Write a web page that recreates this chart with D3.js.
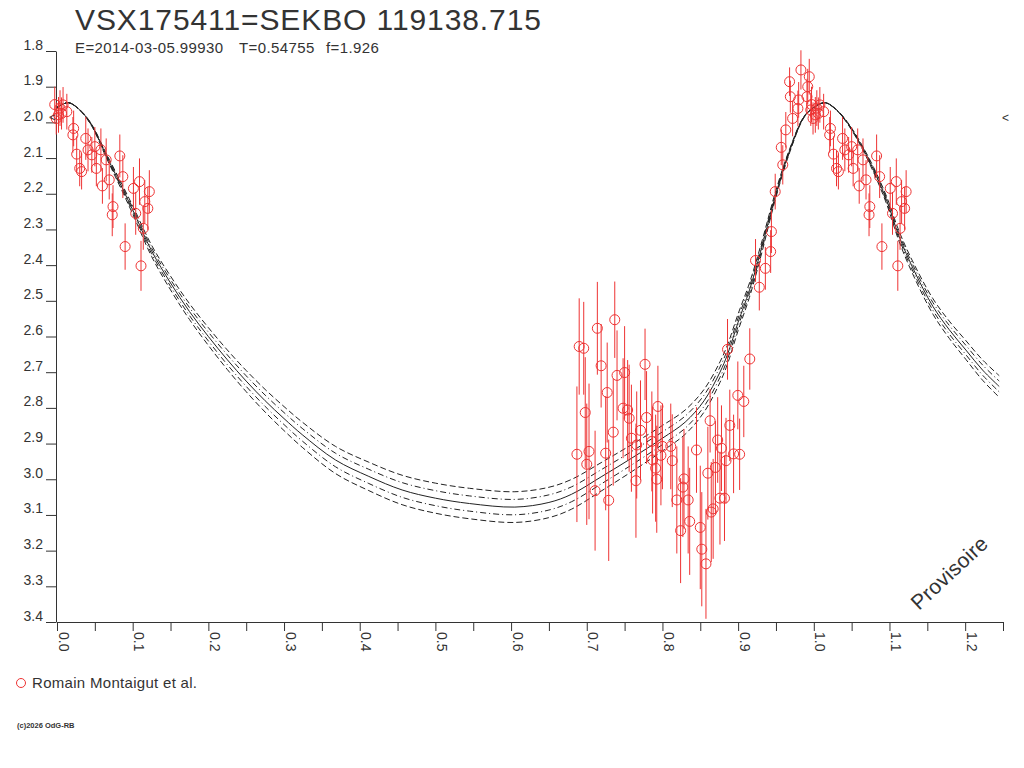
<!DOCTYPE html>
<html>
<head>
<meta charset="utf-8">
<script src="https://cdn.jsdelivr.net/npm/d3@7"></script>
<style>
  body { margin: 0; background: #fff; }
  svg { display: block; }
</style>
</head>
<body>
<div id="chart"></div>
<script>
// model light curve (phase 0 .. 1.25)
const curvePhase = [0.000, 0.015, 0.030, 0.045, 0.066, 0.083, 0.100, 0.125, 0.150, 0.175, 0.200, 0.225, 0.250, 0.275, 0.300, 0.324, 0.368, 0.412, 0.456, 0.500, 0.545, 0.605, 0.650, 0.680, 0.720, 0.760, 0.800, 0.830, 0.855, 0.876, 0.886, 0.900, 0.915, 0.930, 0.950, 0.968, 0.987, 1.000, 1.015, 1.030, 1.045, 1.061, 1.079, 1.096, 1.113, 1.132, 1.1575, 1.179, 1.201, 1.223, 1.245];
const curveMag   = [1.958, 1.945, 1.965, 2.005, 2.097, 2.170, 2.245, 2.360, 2.450, 2.530, 2.600, 2.665, 2.725, 2.780, 2.830, 2.875, 2.946, 2.992, 3.030, 3.053, 3.068, 3.078, 3.065, 3.042, 2.992, 2.940, 2.885, 2.840, 2.780, 2.700, 2.650, 2.560, 2.470, 2.360, 2.200, 2.080, 1.985, 1.958, 1.945, 1.965, 2.003, 2.058, 2.133, 2.217, 2.321, 2.413, 2.516, 2.581, 2.638, 2.694, 2.740];
// amplitude spread of the envelope curves
const bandScale = [-0.038, -0.019, 0, 0.019, 0.038];

// observations: phase, magnitude, error
const obsPhase = [0.928, 0.923, 0.936, 0.943, 0.944, 0.949, 0.959, 0.957, 0.963, 0.972, 0.969, 0.968, 0.980, 0.979, 0.983, 0.994, 0.992, 0.991, 0.996, 0.002, 0.008, 0.006, 0.013, 0.999, 0.022, 0.021, 0.038, 0.026, 0.030, 0.0325, 0.041, 0.046, 0.052, 0.050, 0.058, 0.060, 0.065, 0.069, 0.074, 0.073, 0.083, 0.087, 0.090, 0.101, 0.109, 0.122, 0.116, 0.120, 0.114, 0.111, 0.104, 0.997, 0.004,
  0.687, 0.690, 0.696, 0.698, 0.703, 0.700, 0.714, 0.719, 0.711, 0.725, 0.727, 0.729, 0.735, 0.737, 0.740, 0.748, 0.750, 0.754, 0.756, 0.759, 0.766, 0.765, 0.771, 0.777, 0.779, 0.786, 0.787, 0.794, 0.791, 0.7925, 0.798, 0.800, 0.811, 0.813, 0.819, 0.824, 0.8285, 0.827, 0.834, 0.836, 0.845, 0.850, 0.852, 0.8575, 0.860, 0.863, 0.867, 0.8645, 0.870, 0.873, 0.878, 0.876, 0.882, 0.884, 0.889, 0.894, 0.902, 0.8996, 0.9075, 0.886, 0.9154];
const obsMag = [2.462, 2.387, 2.409, 2.362, 2.306, 2.194, 2.119, 2.070, 2.021, 1.989, 1.928, 1.886, 1.937, 1.961, 1.853, 1.872, 1.900, 1.928, 1.965, 1.979, 1.951, 1.975, 1.970, 1.989, 2.017, 2.035, 2.045, 2.089, 2.129, 2.138, 2.077, 2.091, 2.129, 2.068, 2.077, 2.178, 2.105, 2.161, 2.236, 2.259, 2.094, 2.152, 2.348, 2.185, 2.166, 2.194, 2.222, 2.241, 2.297, 2.402, 2.255, 1.950, 1.960,
  2.930, 2.628, 2.633, 2.813, 2.922, 2.958, 2.577, 2.682, 3.032, 2.927, 2.757, 3.059, 2.868, 2.553, 2.709, 2.801, 2.701, 2.806, 2.829, 2.885, 2.904, 3.004, 2.863, 2.678, 2.827, 2.894, 2.946, 2.796, 2.969, 3.000, 2.933, 2.908, 2.908, 2.948, 3.058, 3.144, 2.999, 3.022, 3.058, 3.118, 2.918, 3.135, 3.196, 3.237, 2.983, 2.836, 3.083, 3.092, 2.967, 2.890, 2.913, 3.053, 3.053, 2.948, 2.849, 2.929, 2.930, 2.765, 2.782, 2.636, 2.663];
const obsErr = [0.065, 0.060, 0.060, 0.060, 0.060, 0.050, 0.055, 0.050, 0.050, 0.050, 0.045, 0.040, 0.050, 0.050, 0.055, 0.050, 0.050, 0.050, 0.045, 0.050, 0.050, 0.045, 0.050, 0.045, 0.050, 0.050, 0.060, 0.050, 0.050, 0.050, 0.060, 0.050, 0.050, 0.055, 0.060, 0.050, 0.060, 0.055, 0.060, 0.060, 0.060, 0.060, 0.065, 0.060, 0.065, 0.060, 0.060, 0.060, 0.060, 0.070, 0.060, 0.050, 0.050,
  0.190, 0.135, 0.130, 0.155, 0.190, 0.170, 0.130, 0.117, 0.168, 0.160, 0.140, 0.170, 0.150, 0.107, 0.126, 0.140, 0.130, 0.140, 0.150, 0.150, 0.150, 0.160, 0.140, 0.100, 0.130, 0.140, 0.150, 0.114, 0.150, 0.150, 0.140, 0.120, 0.120, 0.130, 0.150, 0.147, 0.140, 0.140, 0.150, 0.150, 0.120, 0.173, 0.160, 0.154, 0.130, 0.089, 0.140, 0.140, 0.130, 0.120, 0.120, 0.130, 0.120, 0.120, 0.100, 0.110, 0.100, 0.095, 0.100, 0.085, 0.086];

const xMajor = [0, 0.1, 0.2, 0.3, 0.4, 0.5, 0.6, 0.7, 0.8, 0.9, 1.0, 1.1, 1.2];
const xMinor = [0.05, 0.15, 0.25, 0.35, 0.45, 0.55, 0.65, 0.75, 0.85, 0.95, 1.05, 1.15, 1.25];
const yTicks = [1.8, 1.9, 2.0, 2.1, 2.2, 2.3, 2.4, 2.5, 2.6, 2.7, 2.8, 2.9, 3.0, 3.1, 3.2, 3.3, 3.4];

const width = 1024, height = 768;
const ink = '#333', red = '#ee3333';
const font = '"Liberation Sans", Arial, sans-serif';

const svg = d3.select('#chart').append('svg')
  .attr('width', width)
  .attr('height', height)
  .style('font-family', font);

const x = d3.scaleLinear().domain([0, 1.25]).range([57, 1003]);
const y = d3.scaleLinear().domain([1.8, 3.4]).range([51, 622]);

// title block
svg.append('text').attr('x', 75).attr('y', 30)
  .attr('font-size', 30).attr('letter-spacing', 0.9).attr('fill', ink)
  .text('VSX175411=SEKBO 119138.715');
[['E=2014-03-05.99930', 75], ['T=0.54755', 239], ['f=1.926', 326]].forEach(([t, px]) => {
  svg.append('text').attr('x', px).attr('y', 53)
    .attr('font-size', 15).attr('letter-spacing', 0.4).attr('fill', ink).text(t);
});

// axes
const yAxis = svg.append('g')
  .attr('transform', `translate(${x(0) - 1},0)`)
  .call(d3.axisLeft(y).tickValues(yTicks).tickSize(10).tickSizeOuter(0).tickPadding(3)
    .tickFormat(d3.format('.1f')));
yAxis.selectAll('text').attr('font-size', 14).attr('font-family', font)
  .attr('fill', ink).attr('dy', -2);

const xAxis = svg.append('g')
  .attr('transform', `translate(0,${y(3.4)})`)
  .call(d3.axisBottom(x).tickValues(xMajor.concat(xMinor)).tickSize(9).tickSizeOuter(0)
    .tickFormat(d => xMajor.includes(d) ? d.toFixed(1) : ''));
xAxis.selectAll('text').attr('font-size', 14).attr('font-family', font)
  .attr('fill', ink)
  .attr('text-anchor', 'start')
  .attr('transform', 'rotate(90)')
  .attr('x', 10).attr('y', -1).attr('dy', 0);

svg.selectAll('.domain, .tick line').attr('stroke', ink);

// model curves
const dashes = ['6,3', '6,3,1,3', null, '6,3,1,3', '6,3'];
const mMax = d3.min(curveMag);
const line = d3.line().curve(d3.curveCatmullRom.alpha(0.5));
bandScale.forEach((s, i) => {
  const pts = curvePhase.map((p, j) => [x(p), y(mMax + (curveMag[j] - mMax) * (1 + s))]);
  svg.append('path')
    .attr('d', line(pts))
    .attr('fill', 'none')
    .attr('stroke', '#222')
    .attr('stroke-width', 1)
    .attr('stroke-dasharray', dashes[i]);
});

// observations, folded and repeated over the plotted phase range
const obs = [];
obsPhase.forEach((p, i) => {
  [p - 1, p, p + 1].forEach(q => {
    if (q >= -0.004 && q <= 1.25) obs.push({ q, m: obsMag[i], e: obsErr[i] });
  });
});

const gObs = svg.append('g');
gObs.selectAll('line')
  .data(obs)
  .join('line')
  .attr('x1', d => x(d.q)).attr('x2', d => x(d.q))
  .attr('y1', d => y(d.m - d.e)).attr('y2', d => y(d.m + d.e))
  .attr('stroke', red).attr('stroke-width', 1);
gObs.selectAll('circle')
  .data(obs)
  .join('circle')
  .attr('cx', d => x(d.q)).attr('cy', d => y(d.m))
  .attr('r', 5)
  .attr('fill', 'none')
  .attr('stroke', red).attr('stroke-width', 1);

// little markers at max level
svg.append('text').attr('x', 1002).attr('y', 122).attr('font-size', 12).attr('fill', ink).text('<');
svg.append('text').attr('x', 49).attr('y', 121).attr('font-size', 11).attr('fill', ink).text('<');

// watermark
svg.append('text')
  .attr('transform', 'translate(919,611) rotate(-43)')
  .attr('font-size', 21).attr('letter-spacing', 0.3).attr('fill', ink)
  .text('Provisoire');

// legend
svg.append('circle').attr('cx', 21).attr('cy', 683).attr('r', 4.5)
  .attr('fill', 'none').attr('stroke', red);
svg.append('text').attr('x', 32).attr('y', 688)
  .attr('font-size', 15).attr('letter-spacing', 0.3).attr('fill', ink)
  .text('Romain Montaigut et al.');

svg.append('text').attr('x', 17).attr('y', 728)
  .attr('font-size', 7.5).attr('font-weight', 'bold').attr('fill', ink)
  .text('(c)2026 OdG-RB');
</script>
</body>
</html>
